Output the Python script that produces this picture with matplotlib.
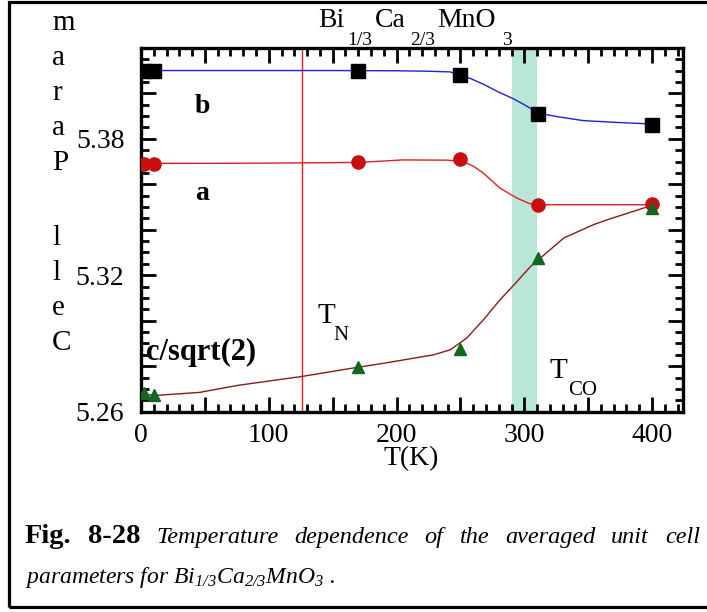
import matplotlib
matplotlib.use("Agg")
import matplotlib.pyplot as plt
from matplotlib.ticker import MultipleLocator, FuncFormatter
from matplotlib.patches import Rectangle

plt.rcParams['font.family'] = ['Liberation Serif', 'DejaVu Serif']
plt.rcParams['mathtext.fontset'] = 'custom'
plt.rcParams['mathtext.rm'] = 'Liberation Serif'
plt.rcParams['mathtext.it'] = 'Liberation Serif:italic'
plt.rcParams['mathtext.sf'] = 'Liberation Serif:italic'

# measured lattice parameters (Angstrom)
temp_pts = [2, 10, 170, 250, 311, 400]
b_pts = [5.4100, 5.4100, 5.4099, 5.4081, 5.3909, 5.3860]
a_pts = [5.3689, 5.3690, 5.3696, 5.3712, 5.3510, 5.3512]
c_pts = [5.2682, 5.2675, 5.2795, 5.2875, 5.3276, 5.3497]

# guide curves
b_fit_t = [2, 50, 100, 150, 200, 225, 242, 257, 268, 280, 290, 300, 311, 325, 346, 372, 400]
b_fit = [5.4100, 5.4100, 5.4100, 5.4100, 5.4099, 5.4097, 5.4094, 5.4067, 5.4040, 5.4005, 5.3980,
         5.3950, 5.3913, 5.3898, 5.3880, 5.3872, 5.3865]
a_fit_t = [2, 50, 100, 170, 205, 240, 252, 260, 268, 281, 294, 304, 311, 350, 400]
a_fit = [5.3692, 5.3692, 5.3693, 5.3696, 5.3707, 5.3706, 5.3700, 5.3680, 5.3649, 5.3583, 5.3540,
         5.3515, 5.3510, 5.3510, 5.3510]
c_fit_t = [2, 10, 46, 76, 126, 166, 190, 229, 242, 255, 268, 281, 292, 305, 311, 331, 354, 365,
           396, 400]
c_fit = [5.2680, 5.2671, 5.2685, 5.2716, 5.2755, 5.2792, 5.2813, 5.2850, 5.2872, 5.2924, 5.3004,
         5.3092, 5.3158, 5.3239, 5.3268, 5.3364, 5.3422, 5.3444, 5.3500, 5.3505]

T_N = 126
T_CO_band = (290, 310)

W, H = 707, 612


def px(x, y):
    return x / W, 1 - y / H


fig = plt.figure(figsize=(7.07, 6.12), dpi=100)
ax = fig.add_axes([141 / W, 1 - 411.7 / H, (682.7 - 141) / W, (411.7 - 47.8) / H])

ax.axvspan(T_CO_band[0], T_CO_band[1], color='#b9e6d7', lw=0, zorder=0)
ax.axvline(T_N, color='#e31a1c', lw=1.0, zorder=1)

ax.plot(b_fit_t, b_fit, color='#1f1fe0', lw=1.0, zorder=2)
ax.plot(a_fit_t, a_fit, color='#e02020', lw=1.0, zorder=2)
ax.plot(c_fit_t, c_fit, color='#8b1a1a', lw=1.0, zorder=2)

ax.plot(temp_pts, b_pts, 's', color='black', ms=9.5, zorder=5)
ax.plot(temp_pts, a_pts, 'o', color='#c80f0f', ms=9.5, zorder=5)
ax.plot(temp_pts, c_pts, '^', color='#13661f', ms=9, zorder=6)

ax.set_xlim(0, 424)
ax.set_ylim(5.26, 5.42)
ax.xaxis.set_major_locator(MultipleLocator(50))
ax.xaxis.set_minor_locator(MultipleLocator(10))
ax.yaxis.set_major_locator(MultipleLocator(0.02))
ax.yaxis.set_minor_locator(MultipleLocator(0.005))
ax.xaxis.set_major_formatter(FuncFormatter(
    lambda v, p: '%d' % round(v) if round(v) % 100 == 0 else ''))
ax.yaxis.set_major_formatter(FuncFormatter(
    lambda v, p: '%.2f' % v if round((v - 5.26) / 0.02) % 3 == 0 else ''))

ax.tick_params(which='both', direction='in', top=True, right=True, width=2, labelsize=20)
ax.tick_params(which='major', length=11)
ax.tick_params(which='minor', length=5.5)
ax.tick_params(axis='x', pad=8)
ax.tick_params(axis='y', pad=12)
for s in ax.spines.values():
    s.set_linewidth(2.4)

# series labels
fig.text(*px(195, 113), 'b', fontsize=20, weight='bold')
fig.text(*px(195, 200), 'a', fontsize=20, weight='bold')
fig.text(*px(146, 360), 'c/sqrt(2)', fontsize=22, weight='bold')

# transition labels
fig.text(*px(317, 323), 'T', fontsize=21)
fig.text(*px(333, 340), 'N', fontsize=15)
fig.text(*px(550, 378), 'T', fontsize=21)
fig.text(*px(568, 395), 'CO', fontsize=15)

# title with dropped subscripts
for s, x, y, fs in [('Bi', 318, 27, 20), ('1/3', 347, 45, 14), ('Ca', 375, 27, 20),
                    ('2/3', 410, 45, 14), ('MnO', 437, 27, 20), ('3', 502, 45, 14)]:
    fig.text(*px(x, y), s, fontsize=fs)

# x label
fig.text(*px(411, 465), 'T(K)', fontsize=20, ha='center')

# stacked y label, read bottom to top
yl = 350
for ch in 'Cell Param':
    if ch != ' ':
        fig.text(*px(52, yl), ch, fontsize=21)
        yl -= 35
    else:
        yl -= 40

# caption, first line justified
renderer = fig.canvas.get_renderer()
words = [('Fig.', 'bold', 'normal', 20.5), ('8-28', 'bold', 'normal', 20.5)]
words += [(w, 'normal', 'italic', 17.5)
          for w in 'Temperature dependence of the averaged unit cell'.split()]
texts = [fig.text(0, 0, w, weight=wt, style=st, fontsize=fs) for w, wt, st, fs in words]
widths = [t.get_window_extent(renderer).width for t in texts]
gap = (700 - 25 - sum(widths)) / (len(texts) - 1)
x = 25
for t, w in zip(texts, widths):
    t.set_position(px(x, 543))
    x += w + gap

fig.text(*px(25, 583), r'parameters for $\mathsf{Bi_{1/3}Ca_{2/3}MnO_3}$ .',
         style='italic', fontsize=17)

fig.add_artist(Rectangle(px(8.5, 607), (730 - 8.5) / W, (607 - 1.5) / H,
                         transform=fig.transFigure, fill=False, lw=2.3,
                         edgecolor='black', clip_on=False))

fig.savefig('out.png', dpi=100)
